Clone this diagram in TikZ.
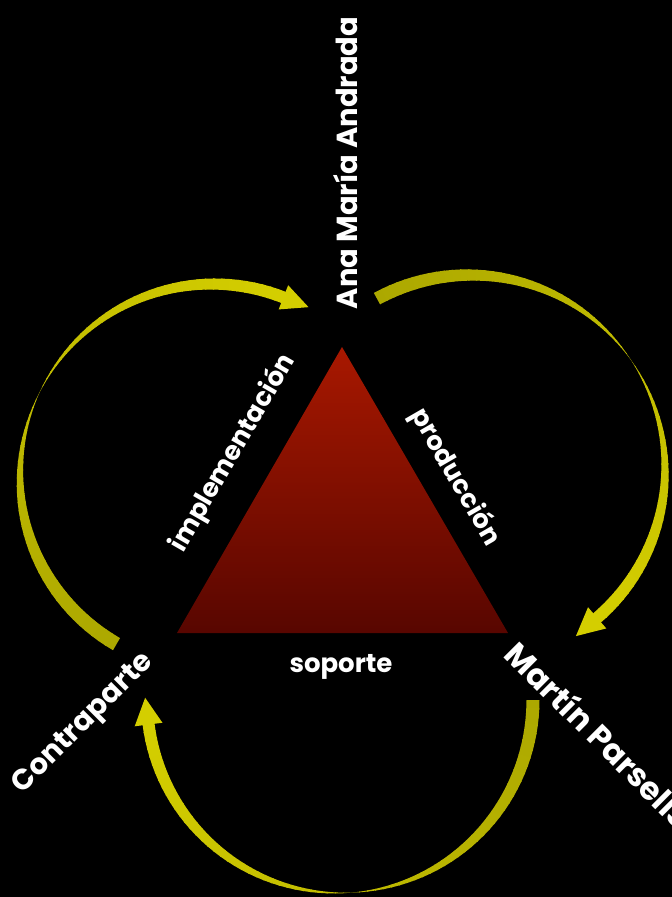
\documentclass[tikz,border=0pt]{standalone}
\usepackage{fontspec}
\setmainfont{Poppins}
\definecolor{ytail}{RGB}{172,168,0}
\definecolor{yhead}{RGB}{212,206,0}
\definecolor{tritop}{RGB}{168,24,0}
\definecolor{tribot}{RGB}{88,6,0}
\tikzset{
  lbl/.style={text=white,font=\bfseries\fontsize{26}{30}\selectfont,inner sep=0pt},
  who/.style={text=white,font=\bfseries\fontsize{29}{34}\selectfont,inner sep=0pt},
  whobig/.style={who,font=\bfseries\fontsize{32}{36}\selectfont}
}
% #1 cx, #2 cy, #3 r, #4 tail angle, #5 head-base angle, #6 tail width, #7 shaft width, #8 head length, #9 head half-width
\newcommand{\cyclearrow}[9]{%
  \pgfmathsetmacro\cmid{(#4+#5)/2}
  \foreach \k in {0,...,71}{%
    \pgfmathsetmacro\ta{#4+(#5-#4)*\k/72}
    \pgfmathsetmacro\tb{#4+(#5-#4)*(\k+1)/72}
    \pgfmathsetmacro\tc{\tb+0.4}
    \pgfmathsetmacro\wa{\ta<\cmid ? #6*cos(90*(\ta-#4)/(\cmid-#4)) : #7*cos(90*(#5-\ta)/(#5-\cmid))}
    \pgfmathsetmacro\wb{\tb<\cmid ? #6*cos(90*(\tb-#4)/(\cmid-#4)) : #7*cos(90*(#5-\tb)/(#5-\cmid))}
    \pgfmathsetmacro\pc{100*\k/71}
    \fill[yhead!\pc!ytail]
      ({#1+(#3+\wa/2)*cos(\ta)},{#2+(#3+\wa/2)*sin(\ta)}) --
      ({#1+(#3+\wb/2)*cos(\tc)},{#2+(#3+\wb/2)*sin(\tc)}) --
      ({#1+(#3-\wb/2)*cos(\tc)},{#2+(#3-\wb/2)*sin(\tc)}) --
      ({#1+(#3-\wa/2)*cos(\ta)},{#2+(#3-\wa/2)*sin(\ta)}) -- cycle;
  }
  \fill[yhead]
    ({#1+(#3+#9)*cos(#5)},{#2+(#3+#9)*sin(#5)}) --
    ({#1+#3*cos(#5)-#8*sin(#5)},{#2+#3*sin(#5)+#8*cos(#5)}) --
    ({#1+(#3-#9)*cos(#5)},{#2+(#3-#9)*sin(#5)}) -- cycle;
}
\begin{document}
\begin{tikzpicture}[x=1pt,y=-1pt]
\useasboundingbox (0,0) rectangle (672,897);
\clip (0,0) rectangle (672,897);
\fill[black] (0,0) rectangle (672,897);
% triangle
\coordinate (tA) at (342,347);
\coordinate (tB) at (177,633);
\coordinate (tC) at (508,633);
\shade[top color=tritop,bottom color=tribot] (tA) -- (tB) -- (tC) -- cycle;
% arrows
\cyclearrow{213}{477}{193}{120}{291.4}{14}{12}{27}{13}
\cyclearrow{470}{470}{195}{241.5}{409.3}{13}{12}{28}{14}
\cyclearrow{340}{700}{193}{0}{172.7}{13}{12}{27}{14}
% labels
\node[who,rotate=90] (ana) at (346,163) {Ana María Andrada};
\node[who,rotate=45] (contra) at (84,724) {Contraparte};
\node[whobig,rotate=-45,anchor=west] (martin) at (512,647) {Martín Parsells};
\node[lbl,rotate=60] (impl) at (233,453) {implementación};
\node[lbl,rotate=-60] (prod) at (455,477) {producción};
\node[lbl] (sop) at (341,667) {soporte};
\end{tikzpicture}
\end{document}
